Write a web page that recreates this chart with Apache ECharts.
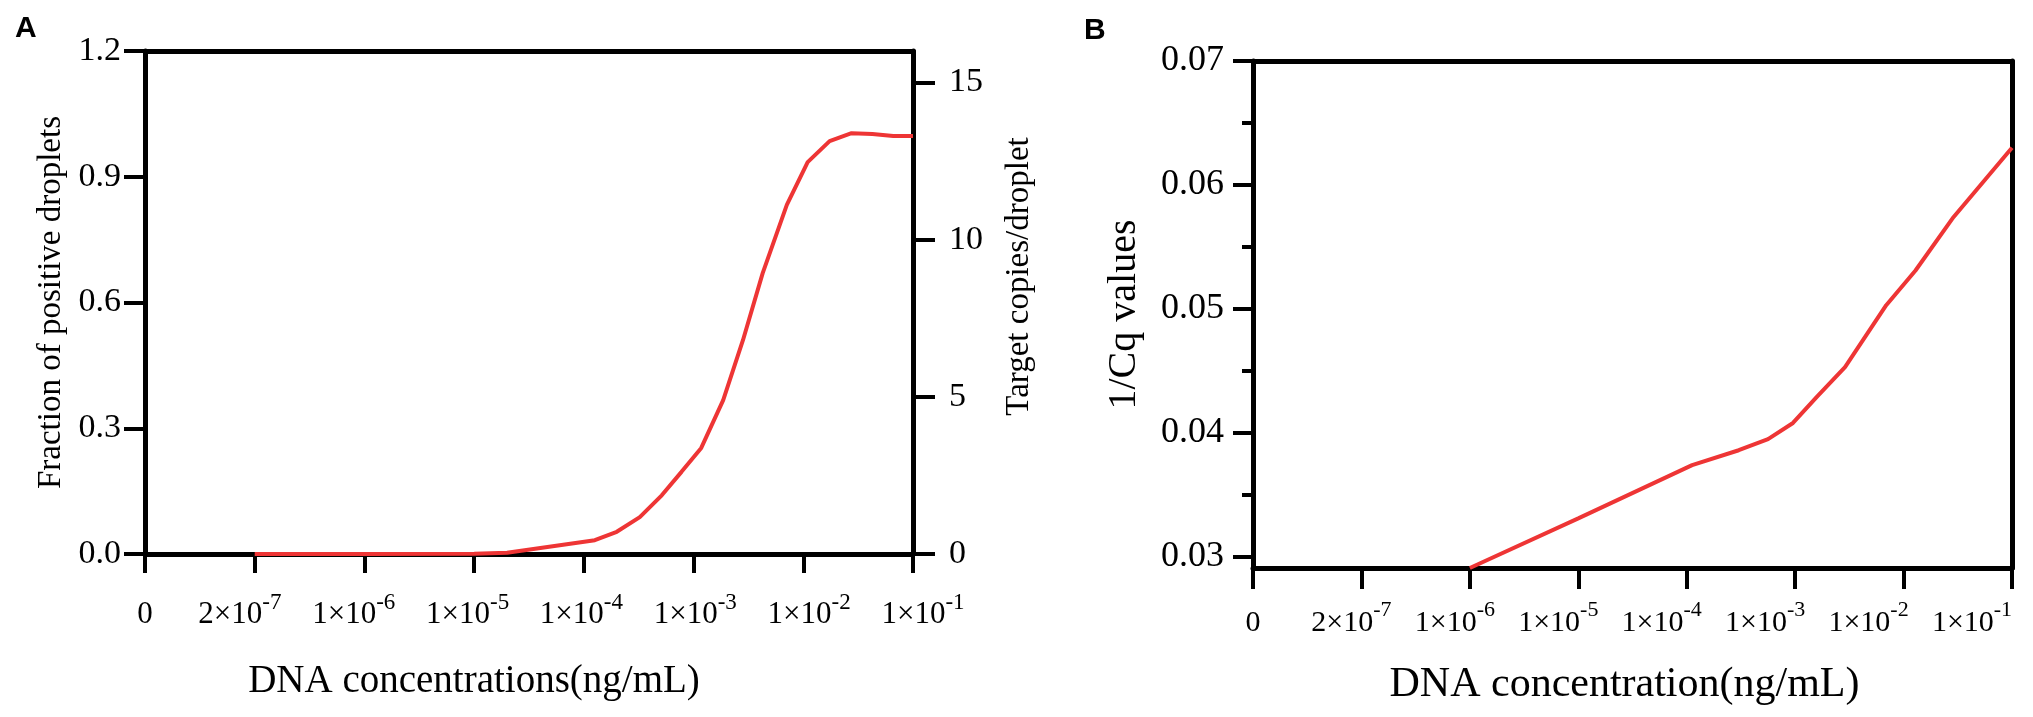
<!DOCTYPE html>
<html>
<head>
<meta charset="utf-8">
<script src="https://cdn.jsdelivr.net/npm/echarts@6/dist/echarts.min.js"></script>
<style>
  html, body { margin: 0; padding: 0; background: #fff; }
  #main { width: 2033px; height: 717px; }
</style>
</head>
<body>
<div id="main"></div>
<script>
// x tick labels, shared by both panels (base + superscript exponent)
var tickBase = ['0', '2×10', '1×10', '1×10', '1×10', '1×10', '1×10', '1×10'];
var tickExp = ['', '-7', '-6', '-5', '-4', '-3', '-2', '-1'];
var tickIdx = [0, 1, 2, 3, 4, 5, 6, 7];

// panel A : position on the tick scale, fraction of positive droplets
var posA = [1, 2, 3, 3.3, 4.1, 4.3, 4.51, 4.71, 4.89, 5.07, 5.27, 5.45, 5.63, 5.85, 6.04, 6.24, 6.44, 6.63, 6.82, 7];
var fracA = [0, 0, 0.0005, 0.003, 0.033, 0.053, 0.088, 0.14, 0.196, 0.253, 0.367, 0.51, 0.67, 0.833, 0.935, 0.985, 1.004, 1.002, 0.997, 0.997];

// panel B : position on the tick scale, 1/Cq
var posB = [2, 3, 4.05, 4.48, 4.75, 4.98, 5.2, 5.46, 5.84, 6.11, 6.46, 7];
var cqB = [0.0291, 0.0331, 0.0374, 0.0386, 0.0395, 0.0408, 0.0429, 0.0453, 0.0503, 0.0531, 0.0574, 0.0630];

var leftTicksA = [0, 0.3, 0.6, 0.9, 1.2];
var rightTicksA = [0, 5, 10, 15];
var majorTicksB = [0.03, 0.04, 0.05, 0.06, 0.07];
var minorTicksB = [0.035, 0.045, 0.055, 0.065];

var serif = "'Liberation Serif', 'Times New Roman', serif";
var black = '#000';
var red = '#ee3535';

function pairs(xs, ys) {
    var out = [];
    for (var i = 0; i < xs.length; i++) out.push([xs[i], ys[i]]);
    return out;
}

function fmtX(v) {
    var i = Math.round(v);
    if (!tickExp[i]) return '{b|' + tickBase[i] + '}';
    return '{b|' + tickBase[i] + '}{s|' + tickExp[i] + '}';
}

function richX(size, sup) {
    return {
        b: { fontFamily: serif, fontSize: size, lineHeight: 48, color: black },
        s: { fontFamily: serif, fontSize: sup, lineHeight: sup, verticalAlign: 'top', color: black }
    };
}

function borderX(grid, pos) {
    return {
        gridIndex: grid, type: 'value', min: 0, max: 7, position: pos,
        axisLine: { show: true, onZero: false, lineStyle: { color: black, width: 5 } },
        axisTick: { show: false }, axisLabel: { show: false }, splitLine: { show: false }
    };
}

// label-only axis on its own grid: in the original the exponent labels are
// spaced a little differently from the ticks
function labelX(grid, margin, size, sup) {
    return {
        gridIndex: grid, type: 'value', min: 0, max: 7, position: 'bottom',
        axisLine: { show: false, onZero: false }, axisTick: { show: false }, splitLine: { show: false },
        axisLabel: { margin: margin, customValues: tickIdx.slice(1), formatter: fmtX, rich: richX(size, sup),
            showMinLabel: true, showMaxLabel: true }
    };
}

var chart = echarts.init(document.getElementById('main'));

var option = {
    animation: false,
    backgroundColor: '#fff',
    grid: [
        { left: 145, top: 51, width: 768, height: 503, containLabel: false, outerBoundsMode: 'none' },
        { left: 1253, top: 61, width: 759, height: 507, containLabel: false, outerBoundsMode: 'none' },
        { left: 126, top: 51, width: 797, height: 503, containLabel: false, outerBoundsMode: 'none' },
        { left: 1248, top: 61, width: 724, height: 507, containLabel: false, outerBoundsMode: 'none' }
    ],
    xAxis: [
        {   // A bottom
            gridIndex: 0, type: 'value', min: 0, max: 7, interval: 1, position: 'bottom',
            axisLine: { show: true, onZero: false, lineStyle: { color: black, width: 5 } },
            axisTick: { show: true, length: 19, lineStyle: { color: black, width: 4 } },
            axisLabel: { margin: 37, customValues: [0], formatter: fmtX, rich: richX(31, 23) },
            splitLine: { show: false },
            name: 'DNA concentrations(ng/mL)', nameLocation: 'middle', nameGap: 108, nameMoveOverlap: false,
            nameTextStyle: { fontFamily: serif, fontSize: 39, color: black, padding: [0, 110, 0, 0] }
        },
        borderX(0, 'top'),
        {   // B bottom
            gridIndex: 1, type: 'value', min: 0, max: 7, interval: 1, position: 'bottom',
            axisLine: { show: true, onZero: false, lineStyle: { color: black, width: 5 } },
            axisTick: { show: true, length: 21, lineStyle: { color: black, width: 4 } },
            axisLabel: { margin: 31, customValues: [0], formatter: fmtX, rich: richX(30, 22) },
            splitLine: { show: false },
            name: 'DNA concentration(ng/mL)', nameLocation: 'middle', nameGap: 96, nameMoveOverlap: false,
            nameTextStyle: { fontFamily: serif, fontSize: 42, color: black, padding: [0, 16, 0, 0] }
        },
        borderX(1, 'top'),
        labelX(2, 37, 31, 23),
        labelX(3, 31, 30, 22)
    ],
    yAxis: [
        {   // A left
            gridIndex: 0, type: 'value', min: 0, max: 1.2, position: 'left',
            axisLine: { show: true, onZero: false, lineStyle: { color: black, width: 5 } },
            axisTick: { show: true, length: 21, customValues: leftTicksA, lineStyle: { color: black, width: 4 } },
            axisLabel: { margin: 24, customValues: leftTicksA, fontFamily: serif, fontSize: 34, color: black,
                formatter: function (v) { return v.toFixed(1); } },
            splitLine: { show: false },
            name: 'Fraction of positive droplets', nameLocation: 'middle', nameGap: 77, nameMoveOverlap: false,
            nameTextStyle: { fontFamily: serif, fontSize: 33, color: black }
        },
        {   // A right
            gridIndex: 0, type: 'value', min: 0, max: 16, position: 'right',
            axisLine: { show: true, onZero: false, lineStyle: { color: black, width: 5 } },
            axisTick: { show: true, length: 22, customValues: rightTicksA, lineStyle: { color: black, width: 4 } },
            axisLabel: { margin: 36, customValues: rightTicksA, fontFamily: serif, fontSize: 34, color: black },
            splitLine: { show: false },
            name: 'Target copies/droplet', nameLocation: 'middle', nameGap: 90, nameRotate: 90, nameMoveOverlap: false,
            nameTextStyle: { fontFamily: serif, fontSize: 33, color: black, padding: [0, 0, 0, 52] }
        },
        {   // B left, major ticks + labels
            gridIndex: 1, type: 'value', min: 0.0291, max: 0.07, position: 'left',
            axisLine: { show: true, onZero: false, lineStyle: { color: black, width: 5 } },
            axisTick: { show: true, length: 20, customValues: majorTicksB, lineStyle: { color: black, width: 4 } },
            axisLabel: { margin: 29, customValues: majorTicksB, fontFamily: serif, fontSize: 36, color: black,
                formatter: function (v) { return v.toFixed(2); } },
            splitLine: { show: false },
            name: '1/Cq values', nameLocation: 'middle', nameGap: 109, nameMoveOverlap: false,
            nameTextStyle: { fontFamily: serif, fontSize: 40, color: black }
        },
        {   // B left, minor ticks
            gridIndex: 1, type: 'value', min: 0.0291, max: 0.07, position: 'left',
            axisLine: { show: false },
            axisTick: { show: true, length: 11, customValues: minorTicksB, lineStyle: { color: black, width: 4 } },
            axisLabel: { show: false }, splitLine: { show: false }
        },
        {   // B right border
            gridIndex: 1, type: 'value', min: 0.0291, max: 0.07, position: 'right',
            axisLine: { show: true, onZero: false, lineStyle: { color: black, width: 5 } },
            axisTick: { show: false }, axisLabel: { show: false }, splitLine: { show: false }
        },
        { gridIndex: 2, type: 'value', min: 0, max: 1, show: false },
        { gridIndex: 3, type: 'value', min: 0, max: 1, show: false }
    ],
    series: [
        {
            type: 'line', xAxisIndex: 0, yAxisIndex: 0, data: pairs(posA, fracA),
            showSymbol: false, symbol: 'none', smooth: false,
            lineStyle: { color: red, width: 4 }
        },
        {
            type: 'line', xAxisIndex: 2, yAxisIndex: 2, data: pairs(posB, cqB),
            showSymbol: false, symbol: 'none', smooth: false,
            lineStyle: { color: red, width: 4 }
        }
    ],
    graphic: [
        { type: 'text', left: 15, top: 14, style: { text: 'A', font: "bold 30px 'Liberation Sans', Arial, sans-serif", fill: black } },
        { type: 'text', left: 1084, top: 16, style: { text: 'B', font: "bold 30px 'Liberation Sans', Arial, sans-serif", fill: black } }
    ]
};

chart.setOption(option);
</script>
</body>
</html>
